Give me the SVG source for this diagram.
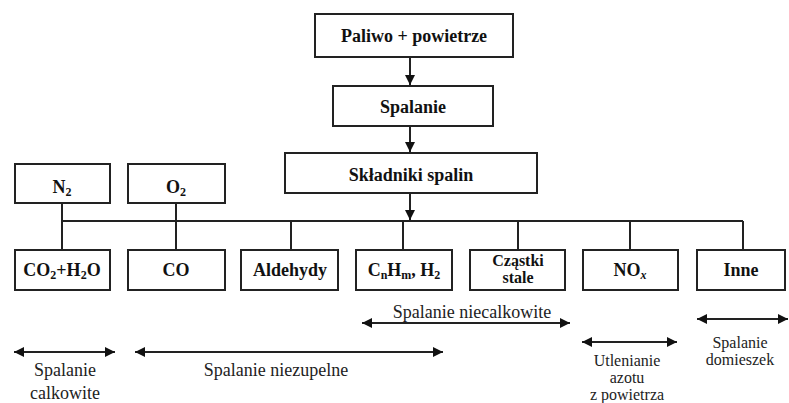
<svg xmlns="http://www.w3.org/2000/svg" width="789" height="403" viewBox="0 0 789 403">
<defs>
<marker id="ah" viewBox="0 0 10 10" refX="10" refY="5" markerWidth="11" markerHeight="10" markerUnits="userSpaceOnUse" orient="auto-start-reverse"><path d="M0,0 L10,5 L0,10 z" fill="#111"/></marker>
</defs>
<rect width="789" height="403" fill="#fff"/>
<g id="connectors" stroke="#222" stroke-width="2" fill="none">
<line x1="410" y1="57" x2="410" y2="85" marker-end="url(#ah)"/>
<line x1="410" y1="126" x2="410" y2="152" marker-end="url(#ah)"/>
<line x1="410" y1="193" x2="410" y2="220" marker-end="url(#ah)"/>
<line x1="62" y1="221" x2="743" y2="221"/>
<line x1="62" y1="203" x2="62" y2="250"/>
<line x1="176" y1="203" x2="176" y2="250"/>
<line x1="291" y1="221" x2="291" y2="250"/>
<line x1="403" y1="221" x2="403" y2="250"/>
<line x1="518" y1="221" x2="518" y2="250"/>
<line x1="630" y1="221" x2="630" y2="250"/>
<line x1="743" y1="221" x2="743" y2="250"/>
<line x1="362" y1="323" x2="570" y2="323" marker-start="url(#ah)" marker-end="url(#ah)"/>
<line x1="14" y1="352" x2="115" y2="352" marker-start="url(#ah)" marker-end="url(#ah)"/>
<line x1="135" y1="352" x2="443" y2="352" marker-start="url(#ah)" marker-end="url(#ah)"/>
<line x1="582" y1="342" x2="677" y2="342" marker-start="url(#ah)" marker-end="url(#ah)"/>
<line x1="697" y1="319" x2="788" y2="319" marker-start="url(#ah)" marker-end="url(#ah)"/>
</g>
<g id="nodes" font-weight="bold" font-size="18" text-anchor="middle" fill="#111">
<g id="paliwo"><rect x="315" y="14" width="198" height="43" fill="#fff" stroke="#222" stroke-width="2"/><text font-family="Liberation Serif" x="414" y="42">Paliwo + powietrze</text></g>
<g id="spalanie"><rect x="333" y="86" width="160" height="40" fill="#fff" stroke="#222" stroke-width="2"/><text font-family="Liberation Serif" x="413" y="113">Spalanie</text></g>
<g id="skladniki"><rect x="285" y="153" width="252" height="40" fill="#fff" stroke="#222" stroke-width="2"/><text font-family="Liberation Serif" x="411" y="181">Składniki spalin</text></g>
<g id="n2"><rect x="15" y="164" width="95" height="39" fill="#fff" stroke="#222" stroke-width="2"/><text font-family="Liberation Serif" x="62" y="193">N<tspan font-size="12" dy="3">2</tspan></text></g>
<g id="o2"><rect x="128" y="164" width="97" height="39" fill="#fff" stroke="#222" stroke-width="2"/><text font-family="Liberation Serif" x="176" y="193">O<tspan font-size="12" dy="3">2</tspan></text></g>
<g id="co2h2o"><rect x="15" y="250" width="95" height="40" fill="#fff" stroke="#222" stroke-width="2"/><text font-family="Liberation Serif" x="62" y="276">CO<tspan font-size="12" dy="3">2</tspan><tspan dy="-3">+H</tspan><tspan font-size="12" dy="3">2</tspan><tspan dy="-3">O</tspan></text></g>
<g id="co"><rect x="128" y="250" width="97" height="40" fill="#fff" stroke="#222" stroke-width="2"/><text font-family="Liberation Serif" x="176" y="276">CO</text></g>
<g id="aldehydy"><rect x="241" y="250" width="97" height="40" fill="#fff" stroke="#222" stroke-width="2"/><text font-family="Liberation Serif" x="290" y="276">Aldehydy</text></g>
<g id="cnhm"><rect x="356" y="250" width="96" height="40" fill="#fff" stroke="#222" stroke-width="2"/><text font-family="Liberation Serif" x="404" y="276">C<tspan font-size="12" dy="3">n</tspan><tspan dy="-3">H</tspan><tspan font-size="12" dy="3">m</tspan><tspan dy="-3">, H</tspan><tspan font-size="12" dy="3">2</tspan></text></g>
<g id="czastki"><rect x="470" y="250" width="95" height="40" fill="#fff" stroke="#222" stroke-width="2"/><text font-family="Liberation Serif" font-size="16" x="518" y="266">Cząstki</text><text font-family="Liberation Serif" font-size="16" x="518" y="283">stale</text></g>
<g id="nox"><rect x="583" y="250" width="95" height="40" fill="#fff" stroke="#222" stroke-width="2"/><text font-family="Liberation Serif" x="630" y="276">NO<tspan font-size="12" dy="3" font-style="italic">x</tspan></text></g>
<g id="inne"><rect x="697" y="250" width="88" height="40" fill="#fff" stroke="#222" stroke-width="2"/><text font-family="Liberation Serif" x="741" y="276">Inne</text></g>
</g>
<g id="labels" font-size="18" text-anchor="middle" fill="#222">
<text font-family="Liberation Serif" x="472" y="318">Spalanie niecalkowite</text>
<text font-family="Liberation Serif" x="65" y="376">Spalanie</text>
<text font-family="Liberation Serif" x="65" y="399">calkowite</text>
<text font-family="Liberation Serif" x="276" y="376">Spalanie niezupelne</text>
<text font-family="Liberation Serif" font-size="16" x="627" y="366">Utlenianie</text>
<text font-family="Liberation Serif" font-size="16" x="627" y="383">azotu</text>
<text font-family="Liberation Serif" font-size="16" x="627" y="400">z powietrza</text>
<text font-family="Liberation Serif" font-size="16" x="740" y="348">Spalanie</text>
<text font-family="Liberation Serif" font-size="16" x="740" y="365">domieszek</text>
</g>
</svg>
